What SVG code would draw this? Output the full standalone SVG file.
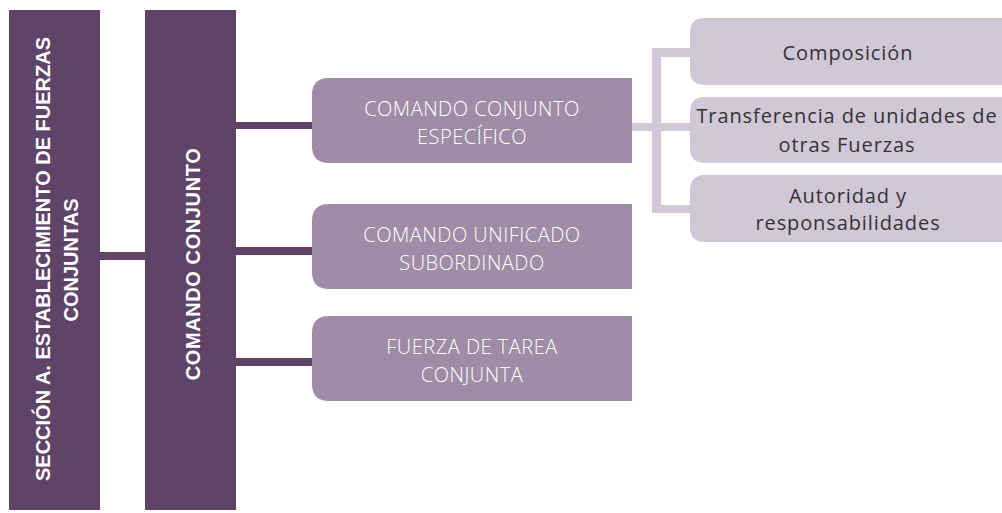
<svg xmlns="http://www.w3.org/2000/svg" width="1002" height="513" viewBox="0 0 1002 513">
<style>
.bar{fill:#604468}
.mid{fill:#a08ca6}
.lite{fill:#d0c8d7}
.dk{fill:#604468}
.lc{fill:#d0c8d7}
.vt{font-family:"Liberation Sans",Arial,sans-serif;font-weight:bold;font-size:20px;fill:#ffffff;text-anchor:middle}
.mt{font-family:"Open Sans","DejaVu Sans",sans-serif;font-weight:300;font-size:20px;fill:#ffffff;text-anchor:middle;letter-spacing:0.5px}
.rt{font-family:"Open Sans","DejaVu Sans",sans-serif;font-size:20px;fill:#333333;text-anchor:middle;letter-spacing:0.9px}
</style>
<rect width="1002" height="513" fill="#ffffff"/>
<g id="connectors">
<rect class="dk" x="100" y="252" width="45" height="8"/>
<rect class="dk" x="236" y="122" width="76" height="7"/>
<rect class="dk" x="236" y="247" width="76" height="8"/>
<rect class="dk" x="236" y="358" width="76" height="8"/>
<rect class="lc" x="632" y="123" width="58" height="8"/>
<rect class="lc" x="652" y="48" width="9" height="165"/>
<rect class="lc" x="652" y="48" width="38" height="9"/>
<rect class="lc" x="652" y="205" width="38" height="8"/>
</g>
<g id="seccion">
<rect class="bar" x="9" y="10" width="91" height="500"/>
<text class="vt" transform="translate(50,259) rotate(-90)">SECCIÓN A. ESTABLECIMIENTO DE FUERZAS</text>
<text class="vt" transform="translate(78,260) rotate(-90)">CONJUNTAS</text>
</g>
<g id="comando">
<rect class="bar" x="145" y="10" width="91" height="500"/>
<text class="vt" style="letter-spacing:0.6px" transform="translate(200,264) rotate(-90)">COMANDO CONJUNTO</text>
</g>
<g id="especifico">
<path class="mid" d="M329 78H632V163H329Q312 163 312 146V95Q312 78 329 78Z"/>
<text class="mt" x="472" y="116">COMANDO CONJUNTO</text>
<text class="mt" x="472" y="144">ESPECÍFICO</text>
</g>
<g id="unificado">
<path class="mid" d="M329 204H632V289H329Q312 289 312 272V221Q312 204 329 204Z"/>
<text class="mt" x="472" y="242">COMANDO UNIFICADO</text>
<text class="mt" x="472" y="270">SUBORDINADO</text>
</g>
<g id="fuerza">
<path class="mid" d="M329 316H632V401H329Q312 401 312 384V333Q312 316 329 316Z"/>
<text class="mt" x="472" y="354">FUERZA DE TAREA</text>
<text class="mt" x="472" y="382">CONJUNTA</text>
</g>
<g id="composicion">
<path class="lite" d="M705 18H1010V85H705Q690 85 690 70V33Q690 18 705 18Z"/>
<text class="rt" x="848" y="60">Composición</text>
</g>
<g id="transferencia">
<path class="lite" d="M705 97H1010V163H705Q690 163 690 148V112Q690 97 705 97Z"/>
<text class="rt" x="847" y="123">Transferencia de unidades de</text>
<text class="rt" x="847" y="152">otras Fuerzas</text>
</g>
<g id="autoridad">
<path class="lite" d="M705 175H1010V242H705Q690 242 690 227V190Q690 175 705 175Z"/>
<text class="rt" x="848" y="203">Autoridad y</text>
<text class="rt" x="848" y="230">responsabilidades</text>
</g>
</svg>
